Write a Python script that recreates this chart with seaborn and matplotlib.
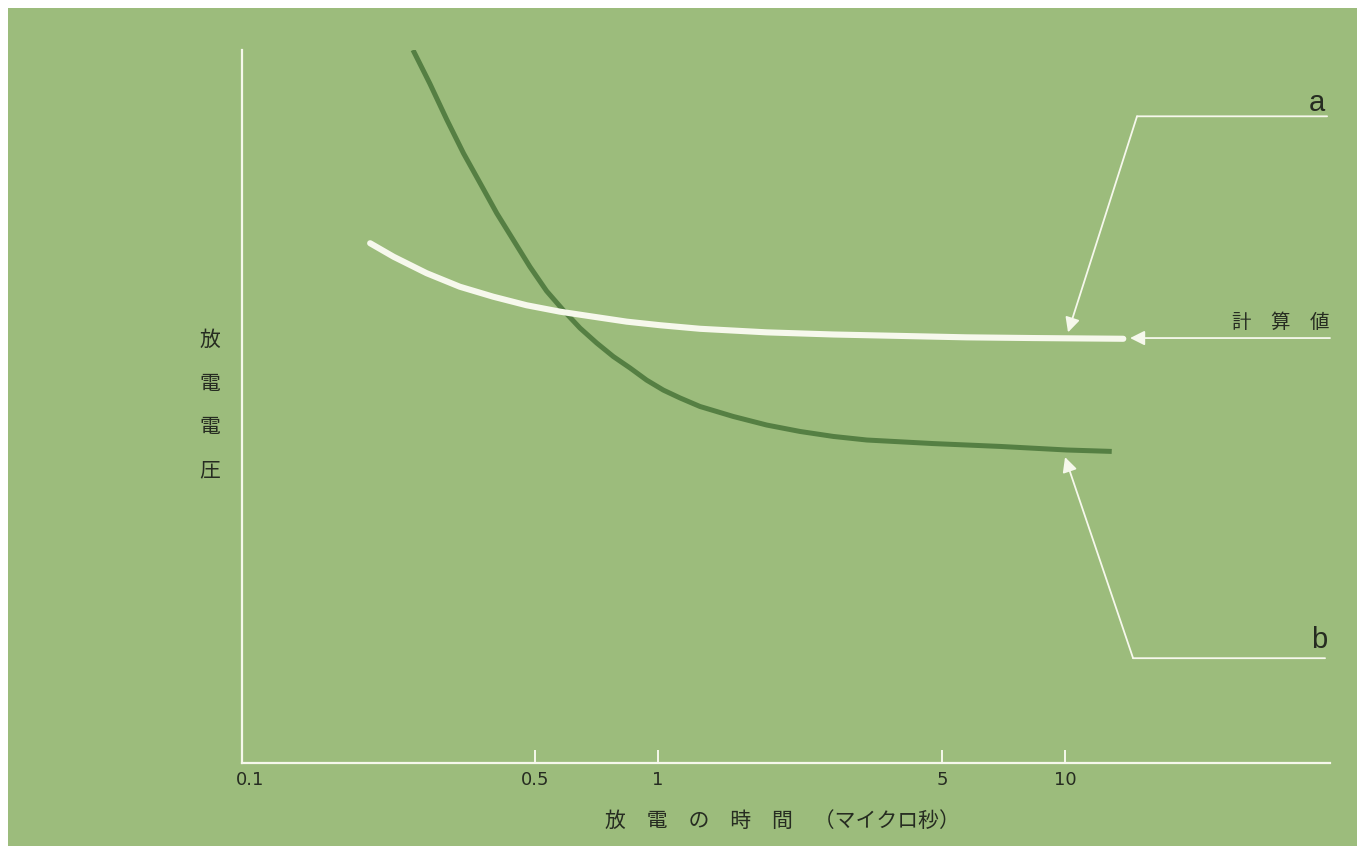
import matplotlib
matplotlib.use("Agg")
import matplotlib.pyplot as plt
from matplotlib.patches import Rectangle
from matplotlib.ticker import FixedLocator, FixedFormatter, NullLocator
import seaborn as sns
import pandas as pd

# Discharge time (microseconds) and discharge voltage (relative units)
measured_t = [0.251, 0.276, 0.304, 0.334, 0.367, 0.403, 0.442, 0.486, 0.534,
              0.587, 0.645, 0.709, 0.779, 0.856, 0.940, 1.033, 1.135, 1.271,
              1.534, 1.853, 2.236, 2.700, 3.262, 4.750, 6.927, 10.10, 13.02]
measured_v = [100.0, 95.3, 90.2, 85.5, 81.3, 77.1, 73.4, 69.6, 66.2,
              63.5, 61.0, 58.9, 57.0, 55.4, 53.7, 52.3, 51.2, 50.0,
              48.6, 47.4, 46.5, 45.8, 45.3, 44.8, 44.4, 43.9, 43.7]

calc_t = [0.197, 0.225, 0.271, 0.327, 0.395, 0.477, 0.576, 0.695, 0.840,
          1.014, 1.271, 1.853, 2.700, 3.936, 5.737, 8.36, 13.90]
calc_v = [72.9, 71.0, 68.7, 66.8, 65.4, 64.2, 63.3, 62.6, 61.9,
          61.4, 60.9, 60.4, 60.1, 59.9, 59.7, 59.6, 59.5]

tick_values = [0.1, 0.5, 1, 5, 10]
tick_labels = ["0.1", "0.5", "1", "5", "10"]

x_label = "放　電　の　時　間　（マイクロ秒）"
y_label = "放電電圧"
calc_label = "計　算　値"

BG = "#9cbc7c"
DARK = "#557f43"
WHITE = "#f6f8ec"
INK = "#262c21"
JP = ["Noto Sans CJK JP", "DejaVu Sans"]

sns.set_theme(style="white")
plt.rcParams["font.family"] = ["DejaVu Sans", "Noto Sans CJK JP"]

W, H = 1357, 846
X_MIN, X_MAX = 0.0955, 44.7

fig = plt.figure(figsize=(W / 100, H / 100), dpi=100, facecolor=BG)
ax = fig.add_axes([242 / W, 1 - 763 / H, (1330 - 242) / W, (763 - 50) / H])
ax.set_facecolor(BG)

# scanned page margins
fig.patches.append(Rectangle((0, 1 - 8 / H), 1, 8 / H, transform=fig.transFigure,
                             facecolor="white", edgecolor="none", zorder=0))
fig.patches.append(Rectangle((0, 0), 8 / W, 1, transform=fig.transFigure,
                             facecolor="white", edgecolor="none", zorder=0))

df_meas = pd.DataFrame({"t": measured_t, "v": measured_v})
df_calc = pd.DataFrame({"t": calc_t, "v": calc_v})

sns.lineplot(data=df_meas, x="t", y="v", ax=ax, color=DARK, linewidth=3.6,
             solid_capstyle="butt", solid_joinstyle="round", zorder=3)
sns.lineplot(data=df_calc, x="t", y="v", ax=ax, color=WHITE, linewidth=4.4,
             solid_capstyle="round", solid_joinstyle="round", zorder=4)

ax.set_xscale("log")
ax.set_xlim(X_MIN, X_MAX)
ax.set_ylim(0, 100)

for side in ["top", "right"]:
    ax.spines[side].set_visible(False)
for side in ["left", "bottom"]:
    ax.spines[side].set_color(WHITE)
    ax.spines[side].set_linewidth(1.6)

ax.xaxis.set_major_locator(FixedLocator(tick_values))
ax.xaxis.set_major_formatter(FixedFormatter(tick_labels))
ax.xaxis.set_minor_locator(NullLocator())
ax.set_yticks([])
ax.tick_params(axis="x", direction="in", length=9.5, width=1.4, color=WHITE,
               labelsize=13, labelcolor=INK, pad=6, bottom=True)
ax.grid(False)
# no tick mark at the origin, only its label
ax.xaxis.get_major_ticks()[0].tick1line.set_visible(False)

ax.set_xlabel(x_label, fontsize=15, color=INK, family=JP)
ax.xaxis.set_label_coords(0.497, -0.066)
ax.set_ylabel("")

# vertical axis title, one character per row
for i, ch in enumerate(y_label):
    fig.text(210 / W, 1 - (340 + 43.5 * i) / H, ch, fontsize=15, color=INK,
             family=JP, ha="center", va="center")

arrow_kw = dict(arrowstyle="-|>", color=WHITE, lw=1.3, mutation_scale=22,
                shrinkA=0, shrinkB=0)
line_kw = dict(arrowstyle="-", color=WHITE, lw=1.3, shrinkA=0, shrinkB=0)

# a: leader to the calculated curve
ax.annotate("", xy=(43.97, 90.7), xytext=(15.02, 90.7), arrowprops=line_kw,
            annotation_clip=False)
ax.annotate("", xy=(10.17, 60.4), xytext=(15.02, 90.7), arrowprops=arrow_kw,
            annotation_clip=False)
ax.text(41.55, 92.6, "a", fontsize=21, color=INK, family="Liberation Sans",
        ha="center", va="center")

# calculated value
ax.annotate("", xy=(14.44, 59.6), xytext=(X_MAX, 59.6), arrowprops=arrow_kw,
            annotation_clip=False)
ax.text(X_MAX, 61.8, calc_label, fontsize=14, color=INK, family=JP,
        ha="right", va="center")

# b: leader to the measured curve
ax.annotate("", xy=(43.47, 14.7), xytext=(14.69, 14.7), arrowprops=line_kw,
            annotation_clip=False)
ax.annotate("", xy=(10.0, 42.9), xytext=(14.69, 14.7), arrowprops=arrow_kw,
            annotation_clip=False)
ax.text(42.0, 17.2, "b", fontsize=21, color=INK, family="Liberation Sans",
        ha="center", va="center")

fig.savefig("out.png", dpi=100, facecolor=BG)
